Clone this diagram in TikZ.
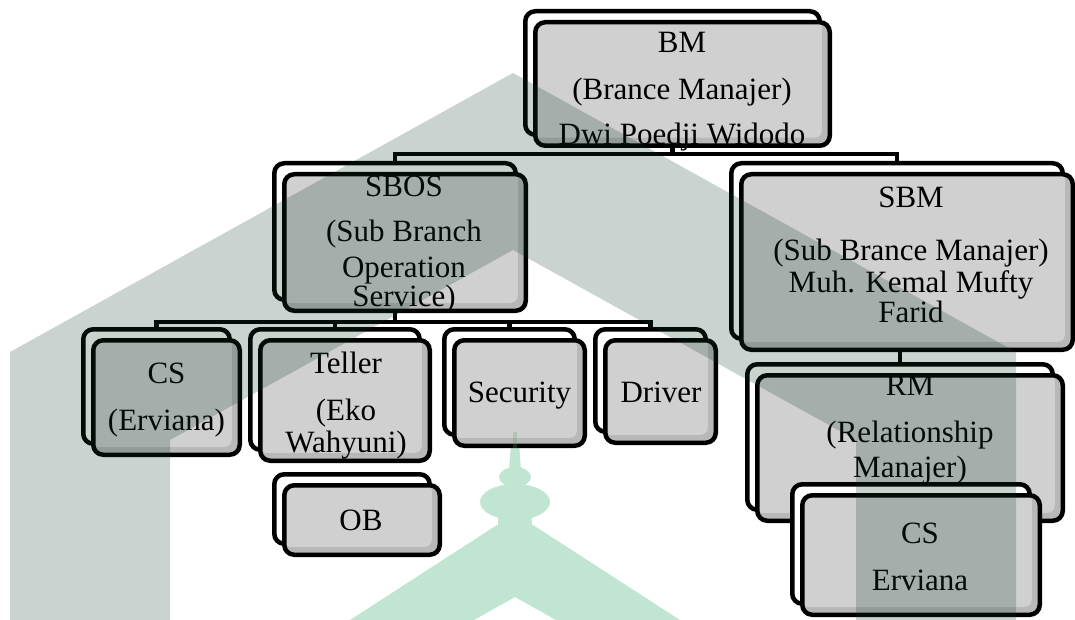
\documentclass[tikz,border=0pt]{standalone}
\usepackage{fontspec}
\setmainfont{Liberation Serif}
\usetikzlibrary{backgrounds}
\definecolor{boxlight}{RGB}{208,208,208}
\definecolor{boxdark}{RGB}{184,184,184}
\definecolor{wmgray}{RGB}{20,55,40}
\definecolor{wmgreen}{RGB}{192,230,211}
\tikzset{
  backbox/.style={draw=black, fill=white, line width=4.5pt, rounded corners=10pt, inner sep=0pt, outer sep=0pt},
  frontbox/.style={draw=black, fill=boxdark, line width=4.5pt, rounded corners=10pt, inner sep=0pt, outer sep=0pt,
    path picture={\fill[boxlight, rounded corners=7pt] ([xshift=-2pt,yshift=2pt]path picture bounding box.north west) rectangle ([xshift=-8pt,yshift=8pt]path picture bounding box.south east);}},
  conn/.style={draw=black, line width=4.5pt},
  lbl/.style={anchor=base, inner sep=0pt, font=\fontsize{31}{31}\selectfont},
  wmark/.style={fill=wmgray, opacity=0.22},
  wgreen/.style={fill=wmgreen}
}
\newcommand\orgbox[5]{%
  \node[backbox, minimum width=#4pt, minimum height=#5pt] (#1-b) at (#2-10,#3-11) {};
  \node[frontbox, minimum width=#4pt, minimum height=#5pt] (#1) at (#2,#3) {};
}
\begin{document}
\begin{tikzpicture}[x=1pt,y=-1pt]
\useasboundingbox (0,0) rectangle (1075,620);

% boxes and labels
\orgbox{bm}{682.5}{84}{294.5}{123.5}
\node[lbl] (bm-l1) at (682,53) {BM};
\node[lbl] (bm-l2) at (682,100) {(Brance Manajer)};
\node[lbl] (bm-l3) at (682,145) {Dwi Poedji Widodo};

\orgbox{sbos}{405}{242.5}{241.5}{136.5}
\node[lbl] (sbos-l1) at (404,197) {SBOS};
\node[lbl] (sbos-l2) at (404,242) {(Sub Branch};
\node[lbl] (sbos-l3) at (404,277) {Operation};
\node[lbl] (sbos-l4) at (404,306) {Service)};

\orgbox{sbm}{907}{262}{331.5}{175.5}
\node[lbl] (sbm-l1) at (911,208) {SBM};
\node[lbl] (sbm-l2) at (911,260) {(Sub Brance Manajer)};
\node[lbl] (sbm-l3) at (911,292) {Muh. Kemal Mufty};
\node[lbl] (sbm-l4) at (911,322) {Farid};

\orgbox{cs}{166.5}{397.5}{146.5}{114.5}
\node[lbl] (cs-l1) at (166.5,383) {CS};
\node[lbl] (cs-l2) at (166.5,430) {(Erviana)};

\orgbox{teller}{345}{400.5}{169.5}{120.5}
\node[lbl] (teller-l1) at (346,373) {Teller};
\node[lbl] (teller-l2) at (346,420) {(Eko};
\node[lbl] (teller-l3) at (346,452) {Wahyuni)};

\orgbox{security}{519.5}{393}{130.5}{105.5}
\node[lbl] (security-l1) at (519.5,402) {Security};

\orgbox{driver}{660.5}{391.5}{110.5}{102.5}
\node[lbl] (driver-l1) at (661,402) {Driver};

\orgbox{ob}{362}{520}{155.5}{69.5}
\node[lbl] (ob-l1) at (361,530) {OB};

\orgbox{rm}{910}{448}{305.5}{145.5}
\node[lbl] (rm-l1) at (910,395) {RM};
\node[lbl] (rm-l2) at (910,442) {(Relationship};
\node[lbl] (rm-l3) at (910,477) {Manajer)};

\orgbox{csb}{921}{555}{237.5}{119.5}
\node[lbl] (csb-l1) at (920,543) {CS};
\node[lbl] (csb-l2) at (920,590) {Erviana};

% background: green emblem and connectors
\begin{pgfonlayer}{background}
  \fill[wgreen] (350,620) -- (497,525) -- (533,525) -- (680,620) -- (556,620) -- (515,597) -- (474,620) -- cycle;
  \fill[wgreen] (498,514) rectangle (532,528);
  \fill[wgreen] (515,502) ellipse [x radius=35pt, y radius=18pt];
  \fill[wgreen] (515,477) ellipse [x radius=16pt, y radius=10pt];
  \fill[wgreen] (512,430) -- (518,430) -- (521,470) -- (509,470) -- cycle;
  \coordinate (bar1) at (0,154);
  \coordinate (bar2) at (0,322);
  \draw[conn] (bm-b.south) -- (bm-b.south |- bar1) -| (sbos-b.north);
  \draw[conn] (bm-b.south |- bar1) -| (sbm-b.north);
  \draw[conn] (sbos-b.south) -- (sbos-b.south |- bar2) -| (cs-b.north);
  \draw[conn] (sbos-b.south |- bar2) -| (teller-b.north);
  \draw[conn] (sbos-b.south |- bar2) -| (security-b.north);
  \draw[conn] (sbos-b.south |- bar2) -| (driver-b.north);
  \draw[conn] (rm-b.north) -- (rm-b.north |- sbm.south);
\end{pgfonlayer}

% watermark overlay
\fill[wmark] (10,620) -- (10,352) -- (513,73) -- (1016,352) -- (1016,620) -- (856,620) -- (856,440) -- (513,250) -- (170,440) -- (170,620) -- cycle;
\fill[fill=wmgreen!60!green!70!black, opacity=0.25] (513,432) rectangle (517,448);
\end{tikzpicture}
\end{document}
